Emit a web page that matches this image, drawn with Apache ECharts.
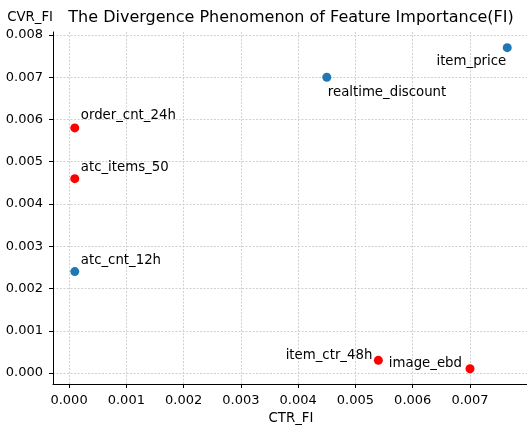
<!DOCTYPE html>
<html>
<head>
<meta charset="utf-8">
<script src="https://cdn.jsdelivr.net/npm/echarts@6/dist/echarts.min.js"></script>
<style>
html,body{margin:0;padding:0;background:#fff;}
#chart{width:527px;height:425px;}
</style>
</head>
<body>
<div id="chart"></div>
<script>
// ---- data ----
const blueNames = ['item_price', 'realtime_discount', 'atc_cnt_12h'];
const blueCTR = [0.00765, 0.0045, 0.0001];
const blueCVR = [0.0077, 0.0070, 0.0024];

const redNames = ['order_cnt_24h', 'atc_items_50', 'item_ctr_48h', 'image_ebd'];
const redCTR = [0.0001, 0.0001, 0.0054, 0.0070];
const redCVR = [0.0058, 0.0046, 0.0003, 0.0001];

const xTicks = [0.000, 0.001, 0.002, 0.003, 0.004, 0.005, 0.006, 0.007];
const yTicks = [0.000, 0.001, 0.002, 0.003, 0.004, 0.005, 0.006, 0.007, 0.008];

const titleText = 'The Divergence Phenomenon of Feature Importance(FI)';
const xName = 'CTR_FI';
const yName = 'CVR_FI';

// ---- label placement (style, not data) ----
const labelPlace = {
  'item_price':        {align: 'right', offset: [-1, 14]},
  'realtime_discount': {align: 'left',  offset: [1, 15]},
  'atc_cnt_12h':       {align: 'left',  offset: [6, -11]},
  'order_cnt_24h':     {align: 'left',  offset: [6, -12]},
  'atc_items_50':      {align: 'left',  offset: [6, -11]},
  'item_ctr_48h':      {align: 'right', offset: [-6, -5]},
  'image_ebd':         {align: 'right', offset: [-8, -5]}
};

const FONT = '"DejaVu Sans", sans-serif';
const TXT = 13.3;

function buildData(names, xs, ys) {
  return names.map((n, i) => ({
    name: n,
    value: [xs[i], ys[i]],
    label: {
      show: true,
      position: 'inside',
      align: labelPlace[n].align,
      verticalAlign: 'middle',
      offset: labelPlace[n].offset,
      formatter: n,
      color: '#000',
      opacity: 1,
      fontFamily: FONT,
      fontSize: TXT
    }
  }));
}

const gridLine = {show: true, lineStyle: {color: '#d0d0d0', width: 1, type: [2, 1.5]}};

const chart = echarts.init(document.getElementById('chart'), null, {renderer: 'canvas'});
chart.setOption({
  animation: false,
  backgroundColor: '#fff',
  title: {
    text: titleText,
    left: 291, top: 10,
    textAlign: 'center',
    padding: 0,
    textStyle: {fontFamily: FONT, fontSize: 16, fontWeight: 'normal', color: '#000'}
  },
  grid: {left: 53, top: 32, right: -2, bottom: 41, containLabel: false, outerBoundsMode: 'none'},
  xAxis: {
    type: 'value',
    min: -0.00028, max: 0.00803,
    name: xName,
    nameLocation: 'middle',
    nameGap: 27,
    nameTextStyle: {fontFamily: FONT, fontSize: TXT, color: '#000'},
    axisLine: {show: true, onZero: false, lineStyle: {color: '#000', width: 1}},
    axisTick: {show: true, length: 4, inside: false, customValues: xTicks, lineStyle: {color: '#000'}},
    axisLabel: {customValues: xTicks, margin: 10, fontFamily: FONT, fontSize: 13, color: '#000',
      formatter: v => v.toFixed(3)},
    splitLine: gridLine
  },
  yAxis: {
    type: 'value',
    min: -0.00026, max: 0.00807,
    name: yName,
    nameLocation: 'end',
    nameGap: 8,
    nameTextStyle: {fontFamily: FONT, fontSize: TXT, color: '#000', align: 'right'},
    axisLine: {show: true, onZero: false, lineStyle: {color: '#000', width: 1}},
    axisTick: {show: true, length: 4, inside: false, customValues: yTicks, lineStyle: {color: '#000'}},
    axisLabel: {customValues: yTicks, margin: 10, fontFamily: FONT, fontSize: 13, color: '#000',
      formatter: v => v.toFixed(3)},
    splitLine: gridLine
  },
  series: [
    {
      type: 'scatter',
      symbolSize: 9,
      itemStyle: {color: '#1f77b4', opacity: 1},
      data: buildData(blueNames, blueCTR, blueCVR)
    },
    {
      type: 'scatter',
      symbolSize: 9,
      itemStyle: {color: '#ff0000', opacity: 1},
      data: buildData(redNames, redCTR, redCVR)
    },
    {
      // top spine
      type: 'line', data: [], silent: true,
      markLine: {silent: true, symbol: 'none', label: {show: false},
        lineStyle: {color: '#000', width: 1, type: 'solid'},
        data: [{yAxis: 0.00807}]}
    }
  ]
});
</script>
</body>
</html>
